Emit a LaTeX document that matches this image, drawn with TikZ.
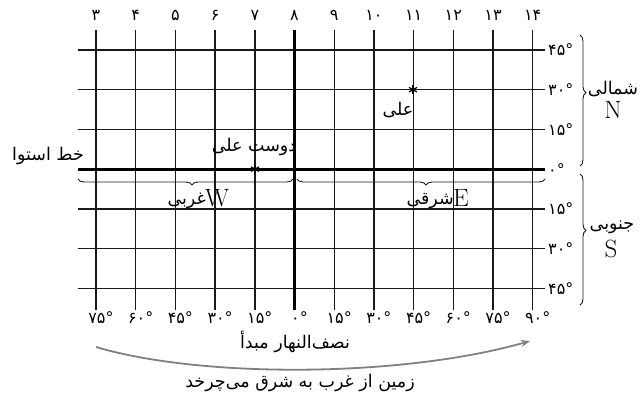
\documentclass[tikz,border=0pt]{standalone}
\usepackage{fontspec}
\usetikzlibrary{decorations.pathreplacing,arrows.meta}
\TeXXeTstate=1
\newfontfamily\fa[Script=Arabic]{DejaVu Sans}
\newcommand\farsi[1]{{\fa\beginR #1\endR}}
\begin{document}
\begin{tikzpicture}[x=1pt,y=-1pt,
  gridline/.style={line width=1.4pt,black!90},
  mainline/.style={line width=3pt,black},
  numlab/.style={font=\fa\fontsize{16}{16}\selectfont,inner sep=0pt},
  falab/.style={font=\fa\fontsize{17.5}{19}\selectfont,inner sep=0pt},
  latlab/.style={font=\fontsize{25}{25}\selectfont,inner sep=0pt},
  bracestyle/.style={decorate,line width=0.9pt,black!90},
  starline/.style={line width=1.2pt,black}]
\useasboundingbox (0,0) rectangle (640,396);
% meridians
\foreach \n in {0,...,11} {
  \coordinate (mt\n) at ({96+39.7*\n},30);
  \coordinate (mb\n) at ({96+39.7*\n},310);
}
\foreach \k in {0,...,6} {
  \coordinate (pl\k) at (78,{50+39.7*\k});
  \coordinate (pr\k) at (545,{50+39.7*\k});
}
\foreach \n in {0,1,2,3,4,6,7,8,9,10,11} \draw[gridline] (mt\n) -- (mb\n);
\foreach \k in {0,1,2,4,5,6} \draw[gridline] (pl\k) -- (pr\k);
\draw[mainline] (mt5) -- (mb5);
\draw[mainline] (pl3) -- (pr3);
% top numbers
\foreach \n/\t in {0/۳,1/۴,2/۵,3/۶,4/۷,5/۸,6/۹,7/۱۰,8/۱۱,9/۱۲,10/۱۳,11/۱۴}
  \node[numlab] (top\n) at ({96+39.7*\n},15) {\t};
% bottom numbers
\foreach \n/\t in {0/۷۵°,1/۶۰°,2/۴۵°,3/۳۰°,4/۱۵°,5/۰°,6/۱۵°,7/۳۰°,8/۴۵°,9/۶۰°,10/۷۵°,11/۹۰°}
  \node[numlab] (bot\n) at ({101+39.7*\n},318) {\t};
% right numbers
\foreach \k/\t in {0/۴۵°,1/۳۰°,2/۱۵°,3/۰°,4/۱۵°,5/۳۰°,6/۴۵°}
  \node[numlab,anchor=west] (rl\k) at ([xshift=3pt]pr\k) {\t};
% braces right
\coordinate (nb1) at (580,35);
\coordinate (nb2) at (580,166);
\coordinate (sb1) at (580,174);
\coordinate (sb2) at (580,305);
\draw[bracestyle,decoration={brace,amplitude=6pt,aspect=0.44}] (nb1) -- (nb2);
\draw[bracestyle,decoration={brace,amplitude=6pt,aspect=0.43}] (sb1) -- (sb2);
\node[falab] (north) at (613,89) {\farsi{شمالی}};
\node[latlab] (N) at (613,110) {N};
\node[falab] (south) at (612,227) {\farsi{جنوبی}};
\node[latlab] (S) at (611,249) {S};
% braces under equator
\coordinate (wb1) at (293,179);
\coordinate (wb2) at (78,179);
\coordinate (eb1) at (545,179);
\coordinate (eb2) at (297,179);
\draw[bracestyle,decoration={brace,amplitude=6pt,aspect=0.47}] (wb1) -- (wb2);
\draw[bracestyle,decoration={brace,amplitude=6pt,aspect=0.48}] (eb1) -- (eb2);
\node[latlab,anchor=west] (W) at (205,198) {W};
\node[falab,anchor=east] (west) at (206,201) {\farsi{غربی}};
\node[latlab,anchor=west] (E) at (453,198) {E};
\node[falab,anchor=east] (east) at (454,201) {\farsi{شرقی}};
% labels
\node[falab] (equator) at (48,156) {\farsi{خط استوا}};
\node[falab] (friend) at (254,147) {\farsi{دوست علی}};
\node[falab] (ali) at (398,110) {\farsi{علی}};
\coordinate (s1) at (255,169.1);
\coordinate (s2) at (413,89.7);
\foreach \s in {s1,s2} {
  \draw[starline] ([yshift=-4.5pt]\s) -- ([yshift=4.5pt]\s);
  \draw[starline] ([shift={(-4pt,-2.3pt)}]\s) -- ([shift={(4pt,2.3pt)}]\s);
  \draw[starline] ([shift={(-4pt,2.3pt)}]\s) -- ([shift={(4pt,-2.3pt)}]\s);
}
% prime meridian label
\node[falab] (prime) at (295,342) {\farsi{نصف‌النهار مبدأ}};
% arrow
\coordinate (a1) at (96,347);
\coordinate (a2) at (530,341);
\draw[line width=1.8pt,black!50,-{Stealth[length=9pt,width=7pt]}] (a1) .. controls (200,378) and (400,378) .. (a2);
\node[falab] (rot) at (300,383) {\farsi{زمین از غرب به شرق می‌چرخد}};
\end{tikzpicture}
\end{document}
